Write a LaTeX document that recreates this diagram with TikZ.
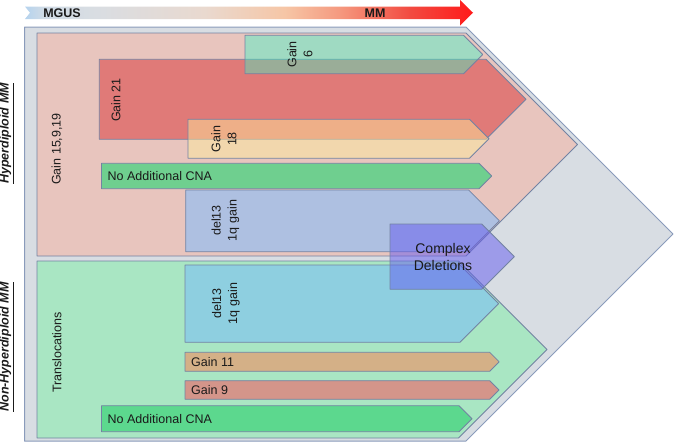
\documentclass[tikz,border=0pt]{standalone}
\usepackage{fontspec}
\setmainfont{Liberation Sans}
\definecolor{sA}{HTML}{B5D3EE}
\definecolor{sB}{HTML}{CFDBE6}
\definecolor{sC}{HTML}{D9DDE2}
\definecolor{sD}{HTML}{E9D9CF}
\definecolor{sE}{HTML}{F6C6A6}
\definecolor{sF}{HTML}{F59A80}
\definecolor{sG}{HTML}{F24A40}
\definecolor{sH}{HTML}{FF1A1A}
\definecolor{grayfill}{HTML}{D8DDE3}
\definecolor{grayline}{HTML}{8A9BBB}
\definecolor{pinkfill}{HTML}{E8C5BE}
\definecolor{greenfill}{HTML}{A9E6C3}
\definecolor{bordc}{HTML}{7383A3}
\definecolor{g21}{HTML}{E07A78}
\definecolor{g6}{RGB}{50,250,200}
\definecolor{g18}{RGB}{255,236,155}
\definecolor{cnaA}{HTML}{6FCF8F}
\definecolor{delA}{HTML}{AEC0E1}
\definecolor{delB}{HTML}{8ECFE0}
\definecolor{g11}{HTML}{D4B087}
\definecolor{g9}{HTML}{D4958A}
\definecolor{cnaB}{HTML}{5CD88E}
\definecolor{cplx}{RGB}{100,90,240}
\definecolor{txt}{HTML}{1A1A1A}
\pgfdeclarehorizontalshading{stageshade}{100bp}{color(0bp)=(sA); color(25bp)=(sA); color(27bp)=(sB); color(33bp)=(sC); color(45bp)=(sD); color(54bp)=(sE); color(60bp)=(sF); color(68bp)=(sG); color(75bp)=(sH); color(100bp)=(sH)}
% #1 style, #2 left x, #3 top y, #4 bottom y, #5 body right x
\newcommand{\mychev}[5]{%
  \path[#1] (#2,#3) -- (#5,#3) -- ({#5+(#4-#3)/2},{(#3+#4)/2}) -- (#5,#4) -- (#2,#4) -- cycle;}
\tikzset{
  edge/.style={draw=bordc, line width=0.8pt},
  lbl/.style={font=\fontsize{12.5}{16}\selectfont, text=txt, inner sep=0pt, align=center},
  vlbl/.style={lbl, rotate=90},
  wlbl/.style={lbl, anchor=west},
  side/.style={font=\fontsize{12.5}{15}\selectfont\bfseries\itshape, text=txt, inner sep=0pt, rotate=90},
  stage/.style={font=\fontsize{12.5}{15}\selectfont\bfseries, text=txt, inner sep=0pt}
}
\begin{document}
\begin{tikzpicture}[x=1pt,y=-1pt,line join=round]
\useasboundingbox (0,0) rectangle (674,442);
% progression arrow
\shade[shading=stageshade] (25,6.5) -- (460,6.5) -- (460,0) -- (473,12.75) -- (460,25.5) -- (460,19) -- (25,19) -- (30,12.75) -- cycle;
\node[stage] (mgus) at (62,13) {MGUS};
\node[stage] (mm) at (375,13) {MM};
% containers
\path[fill=grayfill, draw=grayline, line width=1pt] (24.5,27) -- (466,27) -- (673,234) -- (466,441) -- (24.5,441) -- cycle;
\path[fill=pinkfill, edge] (37,33) -- (466,33) -- (577.5,144.5) -- (466,256) -- (37,256) -- cycle;
\path[fill=greenfill, edge] (37,261) -- (458.5,261) -- (547,349.5) -- (458.5,438) -- (37,438) -- cycle;
% arrows
\mychev{fill=g21, edge}{99.3}{59.3}{139.3}{486}
\mychev{fill=g6, fill opacity=0.4, edge}{245}{35.3}{73.7}{463.5}
\mychev{fill=g18, fill opacity=0.47, edge}{188}{119.3}{158.3}{469.5}
\mychev{fill=cnaA, edge}{101.5}{163.3}{188.7}{479}
\mychev{fill=delA, edge}{185.7}{190}{251.7}{468.6}
\mychev{fill=delB, edge}{185}{265}{342.3}{460}
\mychev{fill=g11, edge}{185}{352.3}{371.3}{489.7}
\mychev{fill=g9, edge}{185}{380.7}{399.3}{489.7}
\mychev{fill=cnaB, edge}{101.5}{405.7}{431.7}{459}
\mychev{fill=cplx, fill opacity=0.5, edge}{390}{224}{289.3}{481.7}
% labels
\node[side] (hyp) at (6.5,133.5) {\underline{Hyperdiploid MM}};
\node[side] (nonhyp) at (6.5,347) {\underline{Non-Hyperdiploid MM}};
\node[vlbl] (g15) at (57,149) {Gain 15,9,19};
\node[vlbl] (trans) at (57,352.5) {Translocations};
\node[vlbl] (t21) at (116,100) {Gain 21};
\node[vlbl] (t6) at (300,54.5) {Gain\\6};
\node[vlbl] (t18) at (224,139) {Gain\\18};
\node[vlbl] (tdelA) at (225.5,220.5) {del13\\1q gain};
\node[vlbl] (tdelB) at (226,303.5) {del13\\1q gain};
\node[wlbl] (tcnaA) at (107.5,176) {No Additional CNA};
\node[wlbl] (t11) at (191,362) {Gain 11};
\node[wlbl] (t9) at (191,390) {Gain 9};
\node[wlbl] (tcnaB) at (107.5,418.7) {No Additional CNA};
\node[lbl, font=\fontsize{14}{17}\selectfont] (tcplx) at (443,256.5) {Complex\\Deletions};
\end{tikzpicture}
\end{document}
